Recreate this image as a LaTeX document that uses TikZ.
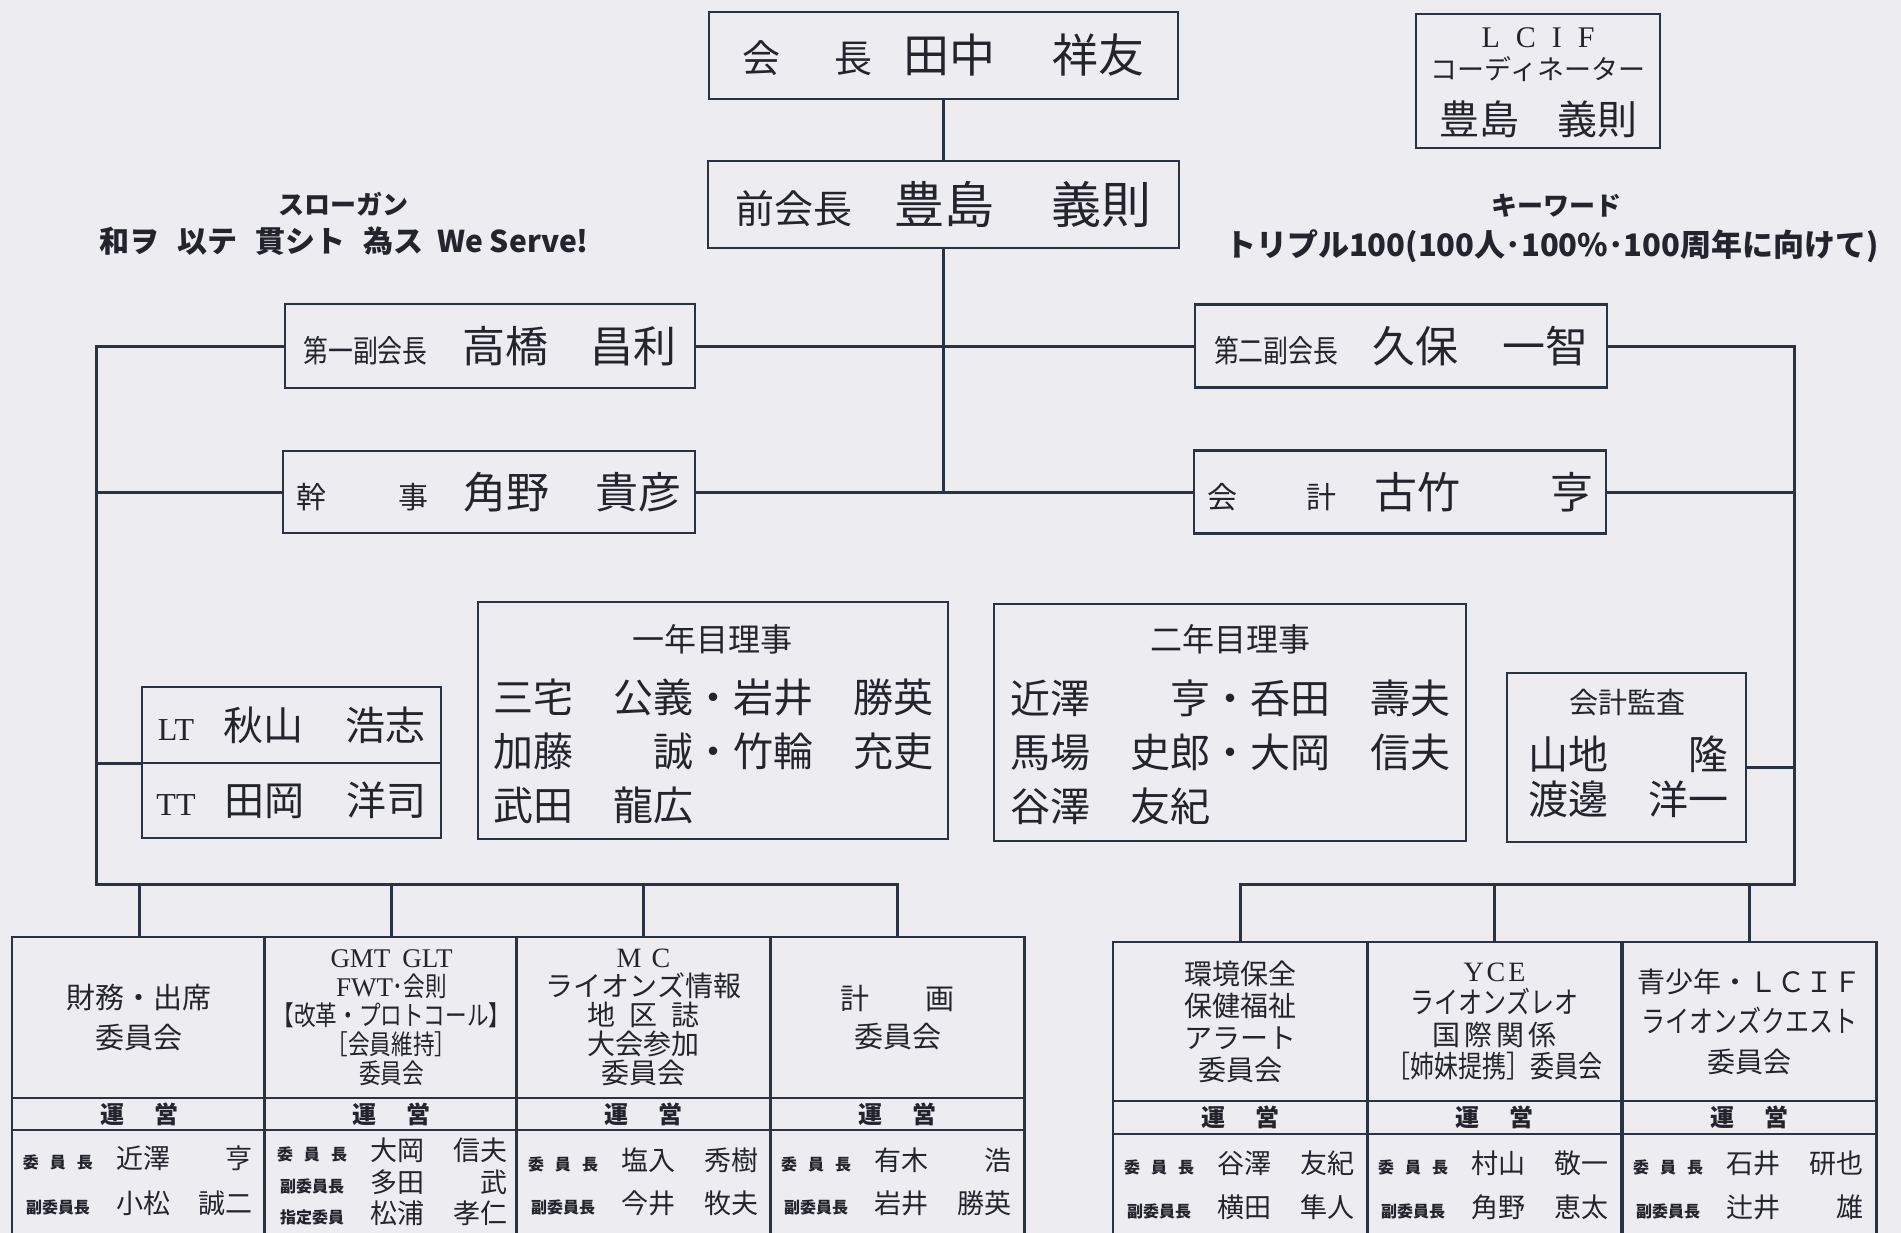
\documentclass[tikz,border=0pt]{standalone}
\usepackage{fontspec}
\setmainfont{Noto Sans CJK JP}
\newfontfamily\condfont[FakeStretch = 0.8]{Noto Sans CJK JP}
\newfontfamily\romanfont{Liberation Serif}
\usetikzlibrary{
    calc,
    positioning
}
\definecolor{paper}{HTML}{ECECF1}
\definecolor{ink}{HTML}{2B3242}
\definecolor{txt}{HTML}{24242C}
\newcommand{\fsz}[1]{\fontsize{#1}{#1}\selectfont}
\newcommand{\member}[3]{%
    \makebox[70pt]{\bfseries\fsz{16}#1}\hspace{23pt}%
    \makebox[137pt]{\fsz{27}#2\hfill #3}}
\tikzset{
    every picture/.style = {
        x = 1pt,
        y = -1pt,
        line width = 3pt
    },
    every node/.style = {
        inner sep = 0pt,
        outer sep = 0pt,
        text = txt,
        align = center
    },
    post/.style = {
        draw = ink,
        fill = paper,
        line width = 2.6pt
    },
    cell/.style = {
        draw = ink,
        fill = paper,
        line width = 2.4pt,
        minimum width = 254pt
    },
    unei/.style = {
        cell,
        font = \bfseries\fsz{24}
    },
    wire/.style = {
        draw = ink,
        line width = 3pt
    },
    rows/.style = {
        anchor = west,
        align = left
    }
}

\begin{document}
\begin{tikzpicture}
    \useasboundingbox (0, 0) rectangle (1901, 1233);
    \clip (0, 0) rectangle (1901, 1233);
    \fill[paper] (0, 0) rectangle (1901, 1233);
    % officers
    \node[post, minimum width = 469pt, minimum height = 87pt] (kaicho) at (943.5, 55.5)
        {{\fsz{38}会}\hspace{55pt}{\fsz{38}長}\hspace{30pt}{\fsz{46}田中}\hspace{58pt}{\fsz{46}祥友}};
    \node[post, minimum width = 471pt, minimum height = 87pt] (zenkaicho) at (943.5, 204.5)
        {{\fsz{39}前会長}\hspace{42pt}{\fsz{50}豊島}\hspace{57pt}{\fsz{50}義則}};
    \node[post, minimum width = 244pt, minimum height = 134pt] (lcif) at (1538, 81) {};
    \node (lcifa) at (1538, 38) {\romanfont\fsz{30}L\hspace{16pt}C\hspace{16pt}I\hspace{16pt}F};
    \node (lcifb) at (1538, 69) {\fsz{27}コーディネーター};
    \node (lcifc) at (1538, 119) {\fsz{40}豊島\hspace{38pt}義則};
    \node (slogan) at (343, 204) {\bfseries\fsz{26}スローガン};
    \node (slogantext) at (344, 241)
        {\bfseries\fsz{30}和ヲ\hspace{18pt}以テ\hspace{18pt}貫シト\hspace{18pt}為ス\hspace{14pt}We Serve!};
    \node (keyword) at (1556, 206) {\bfseries\fsz{26}キーワード};
    \node (keywordtext) at (1552, 246) {\bfseries\fsz{31}トリプル100(100人･100\%･100周年に向けて)};
    \node[post, minimum width = 410pt, minimum height = 84pt] (fuku1) at (490, 346)
        {{\condfont\fsz{31}第一副会長}\hspace{35pt}{\fsz{43}高橋}\hspace{42pt}{\fsz{43}昌利}};
    \node[post, minimum width = 412pt, minimum height = 83pt] (fuku2) at (1401, 346)
        {{\condfont\fsz{31}第二副会長}\hspace{34pt}{\fsz{43}久保}\hspace{44pt}{\fsz{43}一智}};
    \node[post, minimum width = 412pt, minimum height = 82pt] (kanji) at (489, 492)
        {{\fsz{30}幹}\hspace{72pt}{\fsz{30}事}\hspace{35pt}{\fsz{43}角野}\hspace{46pt}{\fsz{43}貴彦}};
    \node[post, minimum width = 412pt, minimum height = 83pt] (kaikei) at (1400, 492)
        {{\fsz{30}会}\hspace{69pt}{\fsz{30}計}\hspace{38pt}{\fsz{43}古竹}\hspace{90pt}{\fsz{43}亨}};
    % middle
    \node[post, minimum width = 299pt, minimum height = 76pt] (lt) at (291.5, 725)
        {{\romanfont\fsz{32}LT}\hspace{29pt}{\fsz{40}秋山}\hspace{42pt}{\fsz{40}浩志}};
    \node[post, minimum width = 299pt, minimum height = 75pt] (tt) at (291.5, 800.5)
        {{\romanfont\fsz{32}TT}\hspace{29pt}{\fsz{40}田岡}\hspace{42pt}{\fsz{40}洋司}};
    \node[post, minimum width = 470pt, minimum height = 237pt] (ichinen) at (713, 720.5) {};
    \node (ichinentitle) at (712, 639) {\fsz{32}一年目理事};
    \node[rows, font = \fontsize{40}{54}\selectfont] (ichinenrows) at (493, 751)
        {三宅　公義・岩井　勝英\\加藤　　誠・竹輪　充吏\\武田　龍広};
    \node[post, minimum width = 472pt, minimum height = 237pt] (ninen) at (1230, 722.5) {};
    \node (ninentitle) at (1230, 639) {\fsz{32}二年目理事};
    \node[rows, font = \fontsize{40}{54}\selectfont] (ninenrows) at (1010, 752)
        {近澤　　亨・呑田　壽夫\\馬場　史郎・大岡　信夫\\谷澤　友紀};
    \node[post, minimum width = 239pt, minimum height = 169pt] (kansa) at (1626.5, 757.5) {};
    \node (kansatitle) at (1627, 703) {\fsz{29}会計監査};
    \node[rows, font = \fontsize{40}{45}\selectfont] (kansarows) at (1528, 777)
        {山地　　隆\\渡邊　洋一};
    % committees left
    \node[cell, minimum height = 161pt, font = \fontsize{29}{40}\selectfont] (zaimu) at (139, 1017.5)
        {財務・出席\\委員会};
    \node[cell, minimum height = 161pt, font = \condfont\fontsize{27}{29}\selectfont] (gmt) at (391.5, 1017.5)
        {{\romanfont GMT\hspace{12pt}GLT}\\{\romanfont FWT}･会則\\【改革・プロトコール】\\［会員維持］\\委員会};
    \node[cell, minimum height = 161pt, font = \fontsize{28}{29}\selectfont] (mc) at (643.5, 1017.5)
        {{\romanfont M\hspace{10pt}C}\\ライオンズ情報\\地\hspace{14pt}区\hspace{14pt}誌\\大会参加\\委員会};
    \node[cell, minimum height = 161pt, font = \fontsize{29}{38}\selectfont] (keikaku) at (897.5, 1017.5)
        {計\hspace{56pt}画\\委員会};
    \node[unei, minimum height = 32pt] (unei1) at (139, 1114) {運\hspace{30pt}営};
    \node[unei, minimum height = 32pt] (unei2) at (391.5, 1114) {運\hspace{30pt}営};
    \node[unei, minimum height = 32pt] (unei3) at (643.5, 1114) {運\hspace{30pt}営};
    \node[unei, minimum height = 32pt] (unei4) at (897.5, 1114) {運\hspace{30pt}営};
    \node[cell, minimum height = 115pt] (iin1) at (139, 1187.5) {};
    \node[cell, minimum height = 115pt] (iin2) at (391.5, 1187.5) {};
    \node[cell, minimum height = 115pt] (iin3) at (643.5, 1187.5) {};
    \node[cell, minimum height = 115pt] (iin4) at (897.5, 1187.5) {};
    \node[anchor = west] (m1a) at (23, 1158) {\member{委\hfill 員\hfill 長}{近澤}{亨}};
    \node[anchor = west] (m1b) at (23, 1203) {\member{副委員長}{小松}{誠二}};
    \node[anchor = west] (m2a) at (277, 1150) {\member{委\hfill 員\hfill 長}{大岡}{信夫}};
    \node[anchor = west] (m2b) at (277, 1182) {\member{副委員長}{多田}{武}};
    \node[anchor = west] (m2c) at (277, 1213) {\member{指定委員}{松浦}{孝仁}};
    \node[anchor = west] (m3a) at (528, 1160) {\member{委\hfill 員\hfill 長}{塩入}{秀樹}};
    \node[anchor = west] (m3b) at (528, 1203) {\member{副委員長}{今井}{牧夫}};
    \node[anchor = west] (m4a) at (781, 1160) {\member{委\hfill 員\hfill 長}{有木}{浩}};
    \node[anchor = west] (m4b) at (781, 1203) {\member{副委員長}{岩井}{勝英}};
    % committees right
    \node[cell, minimum height = 159pt, font = \fontsize{28}{32}\selectfont] (kankyo) at (1240, 1021.5)
        {環境保全\\保健福祉\\アラート\\委員会};
    \node[cell, minimum height = 159pt, font = \fontsize{28}{32}\selectfont] (yce) at (1494.5, 1021.5)
        {{\romanfont Y\hspace{3pt}C\hspace{3pt}E}\\{\condfont\fsz{30}ライオンズレオ}\\国\hspace{4pt}際\hspace{4pt}関\hspace{4pt}係\\{\condfont\fsz{30}［姉妹提携］委員会}};
    \node[cell, minimum height = 159pt, font = \fontsize{28}{40}\selectfont] (seisho) at (1749.5, 1021.5)
        {青少年・ＬＣＩＦ\\{\condfont\fsz{30}ライオンズクエスト}\\委員会};
    \node[unei, minimum height = 33pt] (unei5) at (1240, 1117.5) {運\hspace{30pt}営};
    \node[unei, minimum height = 33pt] (unei6) at (1494.5, 1117.5) {運\hspace{30pt}営};
    \node[unei, minimum height = 33pt] (unei7) at (1749.5, 1117.5) {運\hspace{30pt}営};
    \node[cell, minimum height = 111pt] (iin5) at (1240, 1189.5) {};
    \node[cell, minimum height = 111pt] (iin6) at (1494.5, 1189.5) {};
    \node[cell, minimum height = 111pt] (iin7) at (1749.5, 1189.5) {};
    \node[anchor = west] (m5a) at (1124, 1163) {\member{委\hfill 員\hfill 長}{谷澤}{友紀}};
    \node[anchor = west] (m5b) at (1124, 1207) {\member{副委員長}{横田}{隼人}};
    \node[anchor = west] (m6a) at (1378, 1163) {\member{委\hfill 員\hfill 長}{村山}{敬一}};
    \node[anchor = west] (m6b) at (1378, 1207) {\member{副委員長}{角野}{恵太}};
    \node[anchor = west] (m7a) at (1633, 1163) {\member{委\hfill 員\hfill 長}{石井}{研也}};
    \node[anchor = west] (m7b) at (1633, 1207) {\member{副委員長}{辻井}{雄}};
    % connectors
    \coordinate (hub) at (943.5, 492);
    \coordinate (ltop) at (96, 346);
    \coordinate (lbot) at (96, 884);
    \coordinate (rtop) at (1794, 346);
    \coordinate (rbot) at (1794, 884);
    \coordinate (kansaout) at ([yshift = -10pt]kansa.east);
    \draw[wire] (kaicho) -- (zenkaicho);
    \draw[wire] (zenkaicho) -- (hub);
    \draw[wire] (fuku1) -- (fuku2);
    \draw[wire] (kanji) -- (kaikei);
    \draw[wire] (fuku1) -- (ltop) -- (lbot) -| (keikaku);
    \draw[wire] (kanji) -- (kanji -| ltop);
    \draw[wire] (lt.south west) -- (lt.south west -| ltop);
    \draw[wire] (zaimu |- lbot) -- (zaimu);
    \draw[wire] (gmt |- lbot) -- (gmt);
    \draw[wire] (mc |- lbot) -- (mc);
    \draw[wire] (fuku2) -- (rtop) -- (rbot) -| (kankyo);
    \draw[wire] (kaikei) -- (kaikei -| rtop);
    \draw[wire] (kansaout) -- (kansaout -| rtop);
    \draw[wire] (yce |- rbot) -- (yce);
    \draw[wire] (seisho |- rbot) -- (seisho);
\end{tikzpicture}
\end{document}
